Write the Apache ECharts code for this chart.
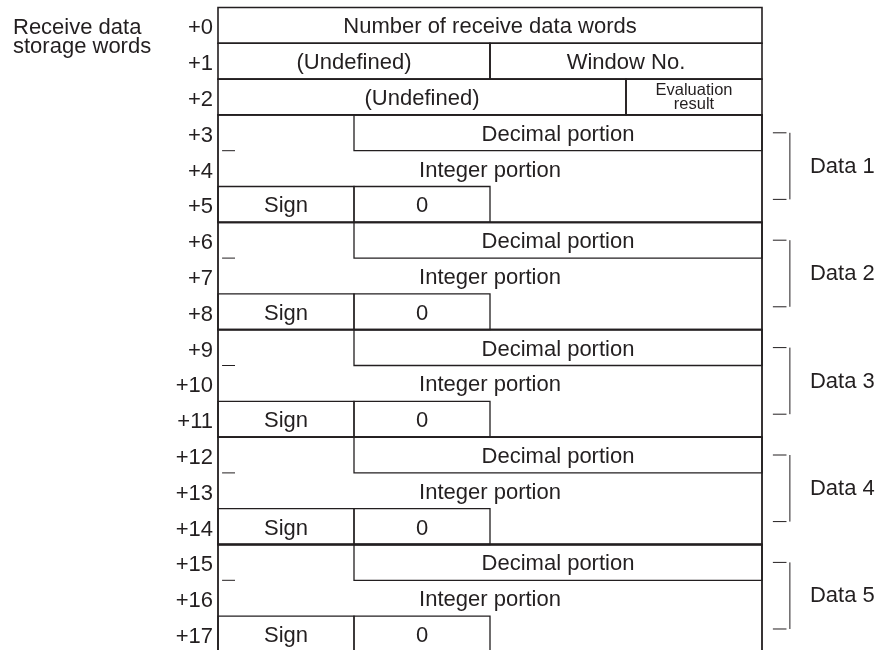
<!DOCTYPE html>
<html><head><meta charset="utf-8">
<script src="https://cdn.jsdelivr.net/npm/echarts@6/dist/echarts.min.js"></script>
<style>html,body{margin:0;padding:0;background:#fff}#c{width:881px;height:650px}</style>
</head><body><div id="c"></div>
<script>
// ---- data ----
const titleLines = ['Receive data', 'storage words'];
const wordLabels = ['+0','+1','+2','+3','+4','+5','+6','+7','+8','+9','+10','+11','+12','+13','+14','+15','+16','+17'];
// header fields: [bitFrom, bitTo, word, text]
const headerFields = [
  [0, 16, 0, 'Number of receive data words'],
  [0, 8, 1, '(Undefined)'],
  [8, 16, 1, 'Window No.'],
  [0, 12, 2, '(Undefined)'],
  [12, 16, 2, 'Evaluation\nresult']
];
const groupLabels = ['Data 1', 'Data 2', 'Data 3', 'Data 4', 'Data 5'];
const groupFirstWords = [3, 6, 9, 12, 15];
// per-group fields: [bitFrom, bitTo, wordOffset, text, boxed]
const groupFields = [
  [4, 16, 0, 'Decimal portion', true],
  [0, 16, 1, 'Integer portion', false],
  [0, 4, 2, 'Sign', true],
  [4, 8, 2, '0', true]
];

// ---- styles ----
const INK = '#231f20';
const FONT = '"Liberation Sans", Arial, Helvetica, sans-serif';
const FS = 22;
const WORDS = wordLabels.length;

// ---- build items ----
const fieldItems = [];
headerFields.forEach(f => {
  const small = f[3].indexOf('\n') >= 0;
  fieldItems.push({ value: [f[0], f[1], f[2], f[2] + 1], name: f[3], boxed: true, lw: 1.6, fs: small ? 16.5 : FS, lh: small ? 14 : FS, dy: small ? 0.5 : 2 });
});
groupFirstWords.forEach(w => {
  groupFields.forEach(f => {
    fieldItems.push({ value: [f[0], f[1], w + f[2], w + f[2] + 1], name: f[3], boxed: f[4], lw: 1.3, fs: FS, lh: FS, dy: 2 });
  });
});
const outlineItems = groupFirstWords.map(w => ({ value: [0, 16, w, w + 3] }));
const bracketItems = groupFirstWords.map((w, i) => ({ value: [w], name: groupLabels[i] }));

function renderField(params, api) {
  const d = fieldItems[params.dataIndex];
  const p0 = api.coord([d.value[0], d.value[2]]);
  const p1 = api.coord([d.value[1], d.value[3]]);
  const ch = [];
  if (d.boxed) ch.push({ type: 'rect', shape: { x: p0[0], y: p0[1], width: p1[0] - p0[0], height: p1[1] - p0[1] },
    style: { fill: 'none', stroke: INK, lineWidth: d.lw } });
  ch.push({ type: 'text', x: (p0[0] + p1[0]) / 2, y: (p0[1] + p1[1]) / 2 + d.dy,
    style: { text: d.name, fill: INK, fontSize: d.fs, fontFamily: FONT, lineHeight: d.lh, align: 'center', verticalAlign: 'middle' } });
  return { type: 'group', children: ch };
}
function renderOutline(params, api) {
  const d = outlineItems[params.dataIndex];
  const p0 = api.coord([d.value[0], d.value[2]]);
  const p1 = api.coord([d.value[1], d.value[3]]);
  const t0 = api.coord([0.12, d.value[2] + 1]);
  const t1 = api.coord([0.5, d.value[2] + 1]);
  return { type: 'group', children: [
    { type: 'rect', shape: { x: p0[0], y: p0[1], width: p1[0] - p0[0], height: p1[1] - p0[1] },
      style: { fill: 'none', stroke: INK, lineWidth: 1.8 } },
    { type: 'line', shape: { x1: t0[0], y1: t0[1], x2: t1[0], y2: t1[1] }, style: { stroke: INK, lineWidth: 1 } }
  ] };
}
function renderBracket(params, api) {
  const w = bracketItems[params.dataIndex].value[0];
  const a = api.coord([16.32, w + 0.5]);
  const b = api.coord([16.72, w + 2.36]);
  const v = api.coord([16.82, w + 0.5]);
  const lbl = api.coord([17.41, w + 1.45]);
  return { type: 'group', children: [
    { type: 'line', shape: { x1: a[0], y1: a[1], x2: b[0], y2: a[1] }, style: { stroke: INK, lineWidth: 1 } },
    { type: 'line', shape: { x1: a[0], y1: b[1], x2: b[0], y2: b[1] }, style: { stroke: INK, lineWidth: 1 } },
    { type: 'line', shape: { x1: v[0], y1: a[1], x2: v[0], y2: b[1] }, style: { stroke: INK, lineWidth: 1 } },
    { type: 'text', x: lbl[0], y: lbl[1],
      style: { text: bracketItems[params.dataIndex].name, fill: INK, fontSize: FS, fontFamily: FONT, align: 'left', verticalAlign: 'middle' } }
  ] };
}

const chart = echarts.init(document.getElementById('c'), null, { renderer: 'canvas' });
chart.setOption({
  animation: false,
  backgroundColor: '#fff',
  title: { text: titleLines.join('\n'), left: 13, top: 18, padding: 0,
    textStyle: { fontSize: FS, fontWeight: 'normal', color: INK, fontFamily: FONT, lineHeight: 19 } },
  grid: { left: 218, top: 7.5, width: 544, height: 35.8 * WORDS, containLabel: false, outerBoundsMode: 'none' },
  xAxis: { type: 'value', min: 0, max: 16, show: false },
  yAxis: [
    { type: 'value', min: 0, max: WORDS, inverse: true, show: false },
    { type: 'category', data: wordLabels, inverse: true, position: 'left', boundaryGap: true,
      axisLine: { show: false }, axisTick: { show: false }, splitLine: { show: false },
      axisLabel: { color: INK, margin: 5, interval: 0,
        formatter: v => '{w|' + v + '}',
        rich: { w: { fontSize: FS, color: INK, fontFamily: FONT, padding: [6, 0, 0, 0] } } } }
  ],
  series: [
    { type: 'custom', renderItem: renderField, data: fieldItems, xAxisIndex: 0, yAxisIndex: 0, silent: true },
    { type: 'custom', renderItem: renderOutline, data: outlineItems, xAxisIndex: 0, yAxisIndex: 0, silent: true },
    { type: 'custom', renderItem: renderBracket, data: bracketItems, xAxisIndex: 0, yAxisIndex: 0, silent: true, clip: false }
  ]
});
</script></body></html>
